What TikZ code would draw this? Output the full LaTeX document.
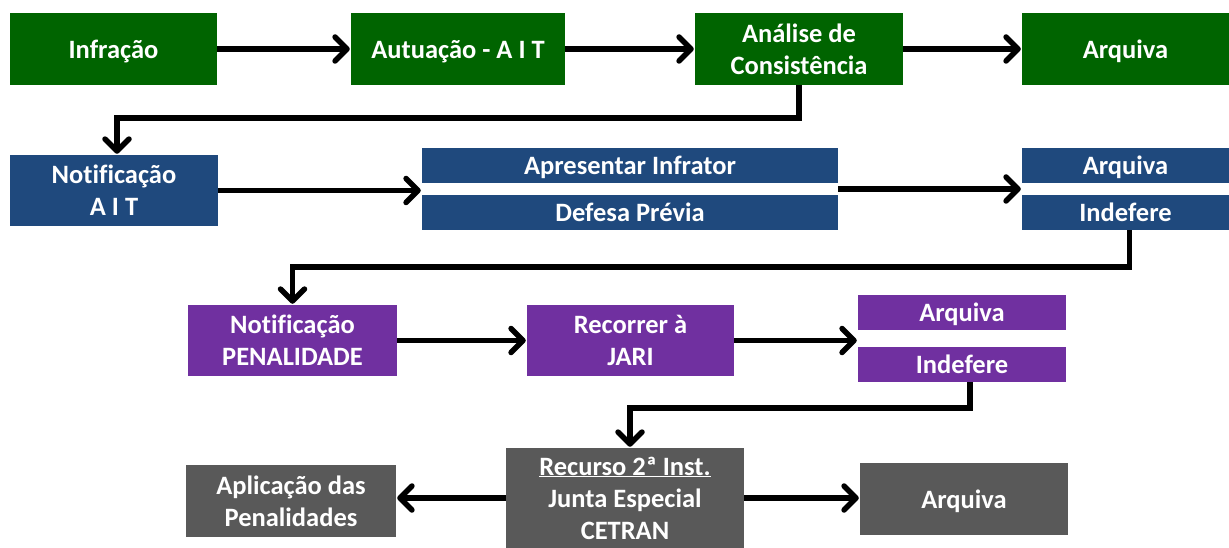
\documentclass[tikz,border=0pt]{standalone}
\usepackage{fontspec}
\setmainfont[Ligatures=NoCommon]{Carlito}
\usetikzlibrary{arrows.meta,calc}
\definecolor{cgreen}{RGB}{0,100,0}
\definecolor{cblue}{RGB}{31,73,125}
\definecolor{cpurple}{RGB}{112,48,160}
\definecolor{cgray}{RGB}{89,89,89}
\begin{document}
\begin{tikzpicture}[x=1pt,y=-1pt,
  box/.style={draw=none, inner sep=0pt, text=white, align=center,
    font=\fontsize{26.5}{32}\selectfont\bfseries},
  gbox/.style={box, fill=cgreen, minimum height=72pt},
  bbox/.style={box, fill=cblue},
  pbox/.style={box, fill=cpurple},
  ybox/.style={box, fill=cgray},
  one/.style={text depth=0pt},
  arr/.style={line width=5.5pt, shorten >=1pt,
    -{Straight Barb[length=12pt,width=24pt,line width=5.5pt,round]}}]
\useasboundingbox[fill=white] (0,0) rectangle (1229,548);
% row 1
\node[gbox, one, minimum width=207pt] (infr) at (113.5,49) {Infração};
\node[gbox, one, minimum width=214pt] (aut) at (458,49) {Autuação - A I T};
\node[gbox, minimum width=208pt] (anal) at (799,49) {Análise de\\Consistência};
\node[gbox, one, minimum width=207pt] (arq1) at (1125.5,49) {Arquiva};
% row 2
\node[bbox, minimum width=208pt, minimum height=71pt] (nait) at (114,190.5) {Notificação\\A I T};
\node[bbox, one, minimum width=416pt, minimum height=35pt] (apres) at (630,165.5) {Apresentar Infrator};
\node[bbox, one, minimum width=416pt, minimum height=35pt] (def) at (630,212.5) {Defesa Prévia};
\node[bbox, one, minimum width=207pt, minimum height=35pt] (arq2) at (1125.5,165.5) {Arquiva};
\node[bbox, one, minimum width=207pt, minimum height=35pt] (ind2) at (1125.5,212.5) {Indefere};
% row 3
\node[pbox, minimum width=209pt, minimum height=71pt] (npen) at (292.5,340.5) {Notificação\\PENALIDADE};
\node[pbox, minimum width=207pt, minimum height=71pt] (rec) at (630.5,340.5) {Recorrer à\\JARI};
\node[pbox, one, minimum width=208pt, minimum height=35pt] (arq3) at (962,312.5) {Arquiva};
\node[pbox, one, minimum width=208pt, minimum height=35pt] (ind3) at (962,364.5) {Indefere};
% row 4
\node[ybox, minimum width=210pt, minimum height=72pt] (apl) at (291,501) {Aplicação das\\Penalidades};
\node[ybox, minimum width=238pt, minimum height=100pt] (rec2) at (625,498) {\underline{Recurso 2ª Inst.}\\Junta Especial\\CETRAN};
\node[ybox, one, minimum width=208pt, minimum height=72pt] (arq4) at (964,499) {Arquiva};
% gap coordinates
\coordinate (g2a) at ($(apres.south east)!0.5!(def.north east)$);
\coordinate (g2b) at ($(arq2.south west)!0.5!(ind2.north west)$);
% connectors
\draw[arr] (infr.east) -- (aut.west);
\draw[arr] (aut.east) -- (anal.west);
\draw[arr] (anal.east) -- (arq1.west);
\draw[arr] (anal.south) -- ++(0,33) -| ([xshift=3pt]nait.north);
\draw[arr] (nait.east) -- (nait.east -| apres.west);
\draw[arr] (g2a) -- (g2b);
\draw[arr] ([xshift=4pt]ind2.south) -- ++(0,37) -| (npen.north);
\draw[arr] (npen.east) -- (rec.west);
\draw[arr] (rec.east) -- (rec.east -| arq3.west);
\draw[arr] ([xshift=8pt]ind3.south) -- ++(0,26) -| ([xshift=5pt]rec2.north);
\draw[arr] (rec2.west) -- (rec2.west -| apl.east);
\draw[arr] (rec2.east) -- (rec2.east -| arq4.west);
\end{tikzpicture}
\end{document}
